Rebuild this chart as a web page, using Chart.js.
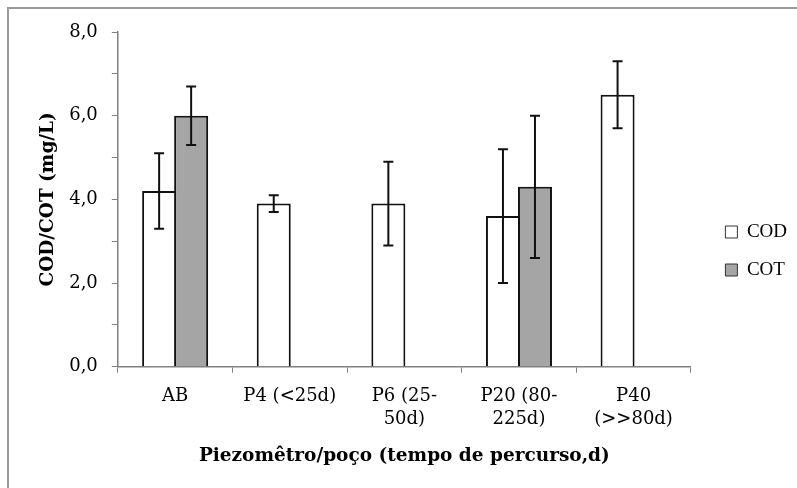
<!DOCTYPE html>
<html>
<head>
<meta charset="utf-8">
<script src="https://cdn.jsdelivr.net/npm/chart.js@4/dist/chart.umd.min.js"></script>
<style>
  html, body { margin: 0; padding: 0; background: #fff; overflow: hidden; }
  #wrap { position: relative; width: 797px; height: 488px; }
  #frame { position: absolute; left: 7px; top: 7px; width: 900px; height: 600px;
           border-top: 2px solid #9a9a9a; border-left: 2px solid #9a9a9a; }
  canvas { position: absolute; left: 0; top: 0; }
</style>
</head>
<body>
<div id="wrap">
  <div id="frame"></div>
  <canvas id="c" width="797" height="488"></canvas>
</div>
<script>
const categories = ['AB', 'P4 (<25d)', ['P6 (25-', '50d)'], ['P20 (80-', '225d)'], ['P40', '(>>80d)']];
const seriesNames = ['COD', 'COT'];
const codValues = [4.2, 3.9, 3.9, 3.6, 6.5];
const cotValues = [6.0, null, null, 4.3, null];
const codLow  = [3.3, 3.7, 2.9, 2.0, 5.7];
const codHigh = [5.1, 4.1, 4.9, 5.2, 7.3];
const cotLow  = [5.3, null, null, 2.6, null];
const cotHigh = [6.7, null, null, 6.0, null];
const yTitle = 'COD/COT (mg/L)';
const xTitle = 'Piezomêtro/poço (tempo de percurso,d)';

const errorBars = [[codLow, codHigh], [cotLow, cotHigh]];

const errorBarPlugin = {
  id: 'errorBars',
  afterDatasetsDraw(chart) {
    const ctx = chart.ctx;
    const y = chart.scales.y;
    ctx.save();
    ctx.strokeStyle = '#111';
    ctx.lineWidth = 2;
    chart.data.datasets.forEach((ds, i) => {
      const meta = chart.getDatasetMeta(i);
      const [lo, hi] = errorBars[i];
      meta.data.forEach((bar, j) => {
        if (ds.data[j] == null || lo[j] == null) return;
        const x = bar.x;
        const yl = y.getPixelForValue(lo[j]);
        const yh = y.getPixelForValue(hi[j]);
        const cap = 5;
        ctx.beginPath();
        ctx.moveTo(x, yl); ctx.lineTo(x, yh);
        ctx.moveTo(x - cap, yl); ctx.lineTo(x + cap, yl);
        ctx.moveTo(x - cap, yh); ctx.lineTo(x + cap, yh);
        ctx.stroke();
      });
    });
    ctx.restore();
  }
};

const CAT_PCT = 0.5585, BAR_PCT = 1.0625;

new Chart(document.getElementById('c'), {
  type: 'bar',
  data: {
    labels: categories,
    datasets: [
      { label: seriesNames[0], data: codValues, backgroundColor: '#ffffff', borderColor: '#111', borderWidth: 2,
        categoryPercentage: CAT_PCT, barPercentage: BAR_PCT, inflateAmount: 0 },
      { label: seriesNames[1], data: cotValues, backgroundColor: '#a5a5a5', borderColor: '#111', borderWidth: 2,
        categoryPercentage: CAT_PCT, barPercentage: BAR_PCT, inflateAmount: 0 }
    ]
  },
  options: {
    responsive: false,
    devicePixelRatio: 1,
    animation: false,
    layout: { padding: { left: 33, right: 0, top: 32, bottom: 18 } },
    plugins: {
      tooltip: { enabled: false },
      legend: {
        position: 'right',
        align: 'center',
        labels: {
          boxWidth: 12, boxHeight: 12, padding: 19,
          color: '#000',
          font: { family: 'Liberation Serif', size: 19 },
          generateLabels(chart) {
            return chart.data.datasets.map((ds, i) => ({
              text: ds.label, fillStyle: ds.backgroundColor, strokeStyle: '#333',
              lineWidth: 1, hidden: false, datasetIndex: i
            }));
          }
        }
      }
    },
    scales: {
      x: {
        grid: { display: true, drawOnChartArea: false, drawTicks: true, tickLength: 6, color: '#808080', offset: true },
        border: { color: '#808080', width: 1.5 },
        ticks: { color: '#000', font: { family: 'DejaVu Serif', size: 18, lineHeight: 1.28 }, padding: 12, maxRotation: 0, autoSkip: false },
        title: { display: true, text: xTitle, color: '#000', font: { family: 'DejaVu Serif', size: 18.5, weight: 'bold' }, padding: { top: 2, bottom: 3 } }
      },
      y: {
        min: 0, max: 8,
        grid: { display: true, drawOnChartArea: false, drawTicks: true, tickLength: 6, color: '#808080' },
        border: { color: '#808080', width: 1.5 },
        ticks: { stepSize: 1, color: '#000', font: { family: 'DejaVu Serif', size: 18 }, padding: 14,
                 callback: v => (v % 2 === 0 ? v.toFixed(1).replace('.', ',') : '') },
        title: { display: true, text: yTitle, color: '#000', font: { family: 'DejaVu Serif', size: 18.5, weight: 'bold' }, padding: { top: 4, bottom: -4 } }
      },
      gap: {
        type: 'linear', position: 'right', display: true,
        grid: { display: false }, border: { display: false }, ticks: { display: false },
        afterFit(scale) { scale.width = 15.5; }
      }
    }
  },
  plugins: [errorBarPlugin]
});
</script>
</body>
</html>
